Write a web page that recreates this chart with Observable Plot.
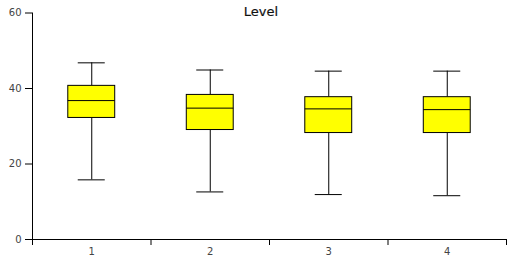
<!DOCTYPE html>
<html>
<head>
<meta charset="utf-8">
<script src="https://cdn.jsdelivr.net/npm/d3@7"></script>
<script src="https://cdn.jsdelivr.net/npm/@observablehq/plot@0.6"></script>
<style>
  body { margin: 0; background: #fff; }
  svg { display: block; }
</style>
</head>
<body>
<div id="chart"></div>
<script>
// Categories and five-number summaries
const categories = [1, 2, 3, 4];
const whiskerLow = [15.8, 12.6, 11.9, 11.6];
const q1 = [32.2, 29.0, 28.2, 28.2];
const median = [36.8, 34.8, 34.6, 34.4];
const q3 = [40.7, 38.3, 37.7, 37.7];
const whiskerHigh = [46.8, 44.9, 44.6, 44.6];
const yTicks = [0, 20, 40, 60];
const title = "Level";

const data = categories.map((c, i) => ({
  cat: c,
  lo: whiskerLow[i], q1: q1[i], med: median[i], q3: q3[i], hi: whiskerHigh[i]
}));

const boxHalf = 0.198;
const capHalf = 0.114;

const chart = Plot.plot({
  width: 510,
  height: 260,
  marginLeft: 32,
  marginRight: 4,
  marginTop: 12.5,
  marginBottom: 21,
  style: { fontFamily: "DejaVu Sans", fontSize: "10px", color: "#444", background: "#fff" },
  x: { type: "linear", domain: [0.5, 4.5] },
  y: { domain: [0, 60] },
  marks: [
    // boundary ticks (no labels)
    Plot.axisX([0.5, 1.5, 2.5, 3.5, 4.5], { tickSize: 6, tickFormat: () => "", stroke: "#000", label: null }),
    // category labels (no ticks)
    Plot.axisX(categories, { tickSize: 0, tickPadding: 8, tickFormat: d => String(d), fill: "#444", label: null, fontSize: 10 }),
    Plot.axisY(yTicks, { tickSize: 7, tickPadding: 4, tickFormat: d => String(d), stroke: "#000", fill: "#444", label: null, fontSize: 10 }),
    Plot.frame({ anchor: "left", stroke: "#000" }),
    Plot.frame({ anchor: "bottom", stroke: "#000" }),
    // whiskers
    Plot.ruleX(data, { x: "cat", y1: "lo", y2: "q1", stroke: "#000" }),
    Plot.ruleX(data, { x: "cat", y1: "q3", y2: "hi", stroke: "#000" }),
    Plot.ruleY(data, { y: "lo", x1: d => d.cat - capHalf, x2: d => d.cat + capHalf, stroke: "#000" }),
    Plot.ruleY(data, { y: "hi", x1: d => d.cat - capHalf, x2: d => d.cat + capHalf, stroke: "#000" }),
    // boxes
    Plot.rect(data, { x1: d => d.cat - boxHalf, x2: d => d.cat + boxHalf, y1: "q1", y2: "q3", fill: "#ffff00", stroke: "#000" }),
    Plot.ruleY(data, { y: "med", x1: d => d.cat - boxHalf, x2: d => d.cat + boxHalf, stroke: "#000" }),
    // title
    Plot.text([title], { frameAnchor: "top", dx: -8.5, dy: -6.5, fontSize: 13, fill: "#111", stroke: "#111", strokeWidth: 0.2, style: "letter-spacing: 0.3px" })
  ]
});
document.getElementById("chart").append(chart);
</script>
</body>
</html>
